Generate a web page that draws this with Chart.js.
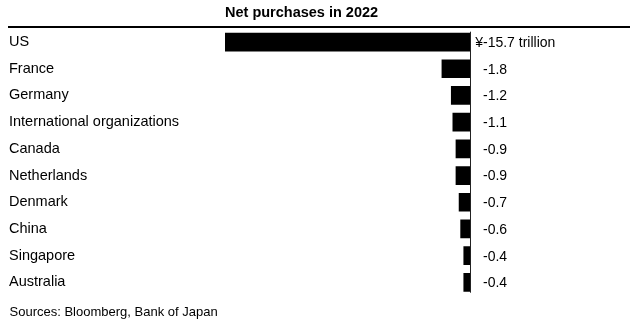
<!DOCTYPE html>
<html>
<head>
<meta charset="utf-8">
<script src="https://cdn.jsdelivr.net/npm/chart.js@4/dist/chart.umd.min.js"></script>
<style>
  html, body { margin: 0; padding: 0; background: #fff; }
  #wrap { position: relative; width: 636px; height: 326px; }
</style>
</head>
<body>
<div id="wrap"><canvas id="c" width="636" height="326"></canvas></div>
<script>
const categories = ["US", "France", "Germany", "International organizations", "Canada", "Netherlands", "Denmark", "China", "Singapore", "Australia"];
const netPurchases = [-15.7, -1.8, -1.2, -1.1, -0.9, -0.9, -0.7, -0.6, -0.4, -0.4];
const valueLabels = ["-15.7 trillion", "-1.8", "-1.2", "-1.1", "-0.9", "-0.9", "-0.7", "-0.6", "-0.4", "-0.4"];
const titleText = "Net purchases in 2022";
const sourceText = "Sources: Bloomberg, Bank of Japan";
const FONT = "'Liberation Sans', Arial, Helvetica, sans-serif";

const decor = {
  id: 'decor',
  beforeDatasetsDraw(chart) {
    const ctx = chart.ctx;
    const xs = chart.scales.x;
    const area = chart.chartArea;
    const x0 = Math.round(xs.getPixelForValue(0)) + 0.5;
    ctx.save();
    ctx.strokeStyle = '#222';
    ctx.lineWidth = 1;
    ctx.beginPath();
    ctx.moveTo(x0, area.top + 3);
    ctx.lineTo(x0, area.bottom - 3);
    ctx.stroke();
    ctx.restore();
  },
  afterDraw(chart) {
    const ctx = chart.ctx;
    const xs = chart.scales.x;
    const ys = chart.scales.y;
    const area = chart.chartArea;
    ctx.save();
    // title
    ctx.fillStyle = '#000';
    ctx.font = "bold 14.5px " + FONT;
    ctx.textAlign = 'left';
    ctx.textBaseline = 'alphabetic';
    ctx.fillText(titleText, area.left, 17);
    // top rule
    ctx.fillRect(8, 26, 622, 2);
    // value labels
    const labelX = xs.getPixelForValue(0) + 13;
    ctx.font = "14px " + FONT;
    ctx.textBaseline = 'middle';
    valueLabels.forEach((t, i) => {
      const y = ys.getPixelForValue(i);
      ctx.textAlign = 'left';
      ctx.fillText(t, labelX, y + 1);
      if (i === 0) {
        ctx.textAlign = 'right';
        ctx.fillText('¥', labelX, y + 1);
      }
    });
    // sources
    ctx.font = "13px " + FONT;
    ctx.textAlign = 'left';
    ctx.textBaseline = 'alphabetic';
    ctx.fillText(sourceText, 9.5, 316);
    ctx.restore();
  }
};

new Chart(document.getElementById('c'), {
  type: 'bar',
  data: {
    labels: categories,
    datasets: [{
      data: netPurchases,
      backgroundColor: '#000',
      borderWidth: 0,
      barThickness: 18
    }]
  },
  options: {
    indexAxis: 'y',
    responsive: false,
    animation: false,
    layout: { padding: { left: 9, right: 166, top: 28.7, bottom: 30.3 } },
    plugins: { legend: { display: false }, tooltip: { enabled: false }, title: { display: false } },
    scales: {
      x: { display: false, min: -15.7, max: 0 },
      y: {
        grid: { display: false },
        border: { display: false },
        ticks: { crossAlign: 'far', color: '#000', font: { family: FONT, size: 14.5 }, padding: 0 },
        afterFit(scale) { scale.width = 216; }
      }
    }
  },
  plugins: [decor]
});
</script>
</body>
</html>
